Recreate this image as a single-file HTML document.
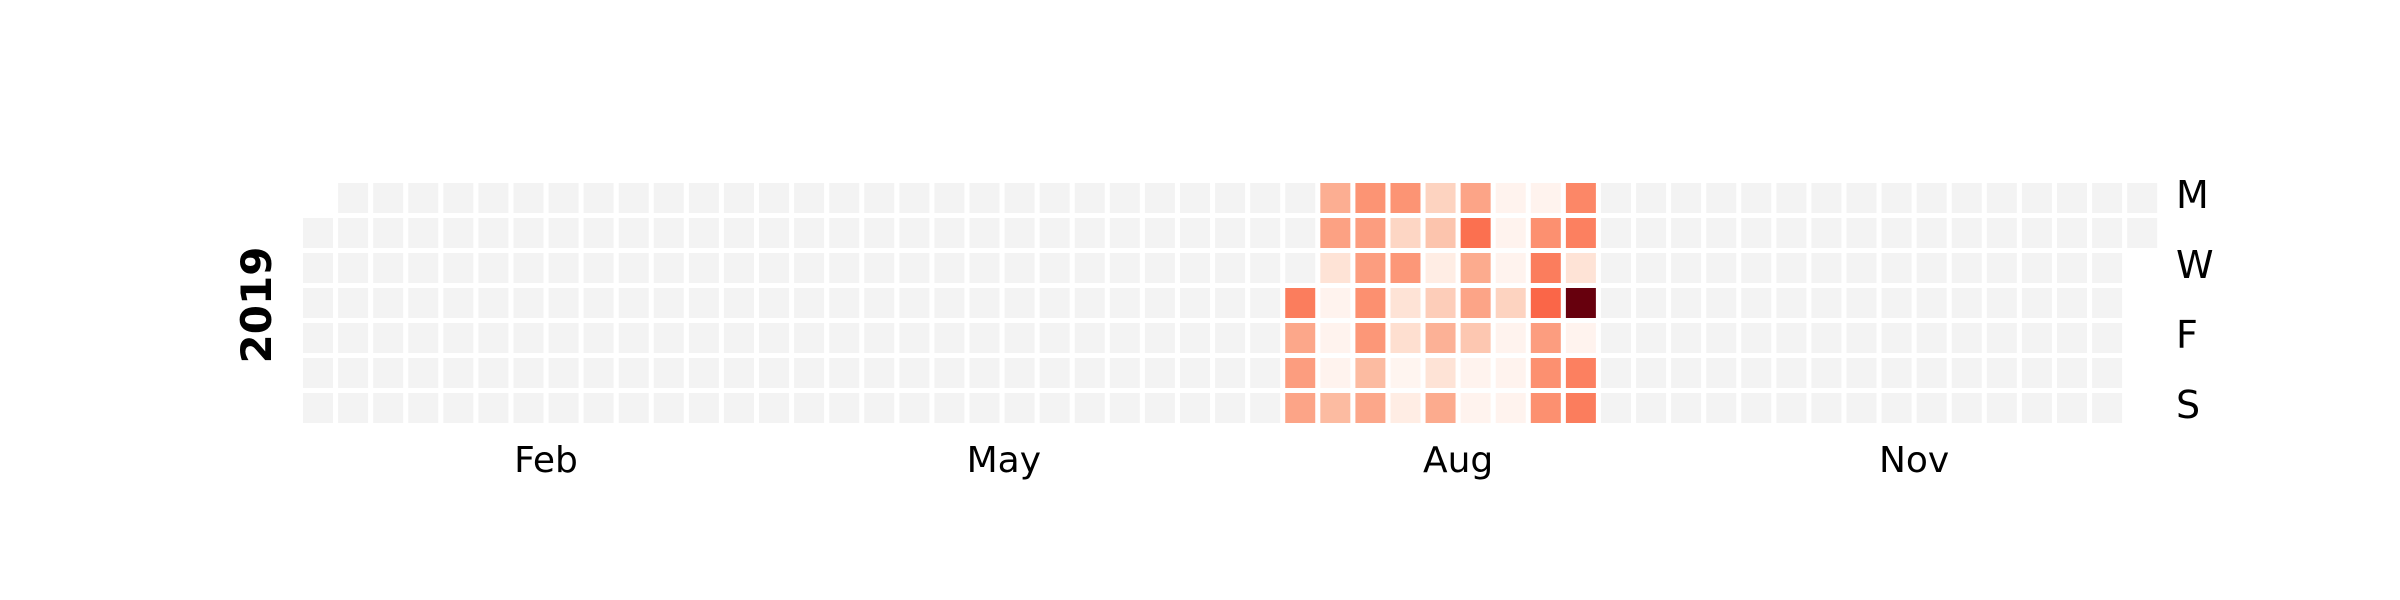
<!DOCTYPE html>
<html><head><meta charset="utf-8">
<style>
html,body{margin:0;padding:0;background:#fff;}
svg{display:block;font-family:"DejaVu Sans","Liberation Sans",sans-serif;}
</style></head>
<body>
<svg id="chart" width="2400" height="600" viewBox="0 0 2400 600">
<g id="cells"></g>
<g id="labels"></g>
</svg>
<script>
// Data: values (0-100 intensity) for consecutive days starting at startDay (day-of-year, 0 = Jan 1 2019)
const year = 2019;
const startDay = 198;
const values = [44,31,34,32,
  29,33,11,1,1,1,25,
  37,34,34,38,36,25,31,
  37,16,36,11,13,0,5,
  17,22,5,19,28,11,30,
  32,48,30,32,21,1,1,
  1,1,1,17,1,1,1,
  1,38,44,51,34,38,38,
  41,43,11,100,1,43,44];
const maxValue = 100;
const monthLabels = ["Feb","May","Aug","Nov"];
const monthCols = [6.5,19.55,32.5,45.5];
const dayLabels = ["M","W","F","S"];
const dayRows = [0,2,4,6];

const x0=303, y0=183, pitchX=35.08, pitchY=35, cell=30;
const colX = c => x0 + c*pitchX;
const rowY = r => y0 + r*pitchY;
const stops = ["#fff5f0","#fee0d2","#fcbba1","#fc9272","#fb6a4a","#ef3b2c","#cb181d","#a50f15","#67000d"];
function hex(h){return [1,3,5].map(i=>parseInt(h.substr(i,2),16));}
function reds(t){
  t=Math.max(0,Math.min(1,t));
  const p=t*(stops.length-1), i=Math.min(stops.length-2,Math.floor(p)), f=p-i;
  const a=hex(stops[i]), b=hex(stops[i+1]);
  return "rgb("+a.map((v,k)=>Math.round(v+(b[k]-v)*f)).join(",")+")";
}
const NS="http://www.w3.org/2000/svg";
const cg=document.getElementById('cells');
const firstDow=1; // Jan 1 2019 is Tuesday (Mon=0)
const nDays=365;
for(let d=0; d<nDays; d++){
  const idx=d+firstDow, col=Math.floor(idx/7), row=idx%7;
  const r=document.createElementNS(NS,'rect');
  r.setAttribute('x',colX(col).toFixed(2));
  r.setAttribute('y',rowY(row));
  r.setAttribute('width',cell);
  r.setAttribute('height',cell);
  const k=d-startDay;
  const v=(k>=0 && k<values.length)?values[k]:null;
  r.setAttribute('fill', v===null ? '#f3f3f3' : reds(v/maxValue));
  
  
  cg.appendChild(r);
}
const lg=document.getElementById('labels');
monthLabels.forEach((m,i)=>{
  const t=document.createElementNS(NS,'text');
  t.setAttribute('x',(colX(monthCols[i])+cell/2).toFixed(1));
  t.setAttribute('y',472);
  t.setAttribute('text-anchor','middle');
  t.setAttribute('font-size','36');
  t.textContent=m;
  
  
  lg.appendChild(t);
});
dayLabels.forEach((d,i)=>{
  const t=document.createElementNS(NS,'text');
  t.setAttribute('x',2176);
  t.setAttribute('y',rowY(dayRows[i])+cell/2+10);
  t.setAttribute('font-size','38');
  t.textContent=d;
  
  
  lg.appendChild(t);
});
const yl=document.createElementNS(NS,'text');
yl.setAttribute('transform','translate(271,305) rotate(-90)');
yl.setAttribute('text-anchor','middle');
yl.setAttribute('font-size','42');
yl.setAttribute('font-weight','bold');
yl.textContent=String(year);


lg.appendChild(yl);
</script>
</body></html>
